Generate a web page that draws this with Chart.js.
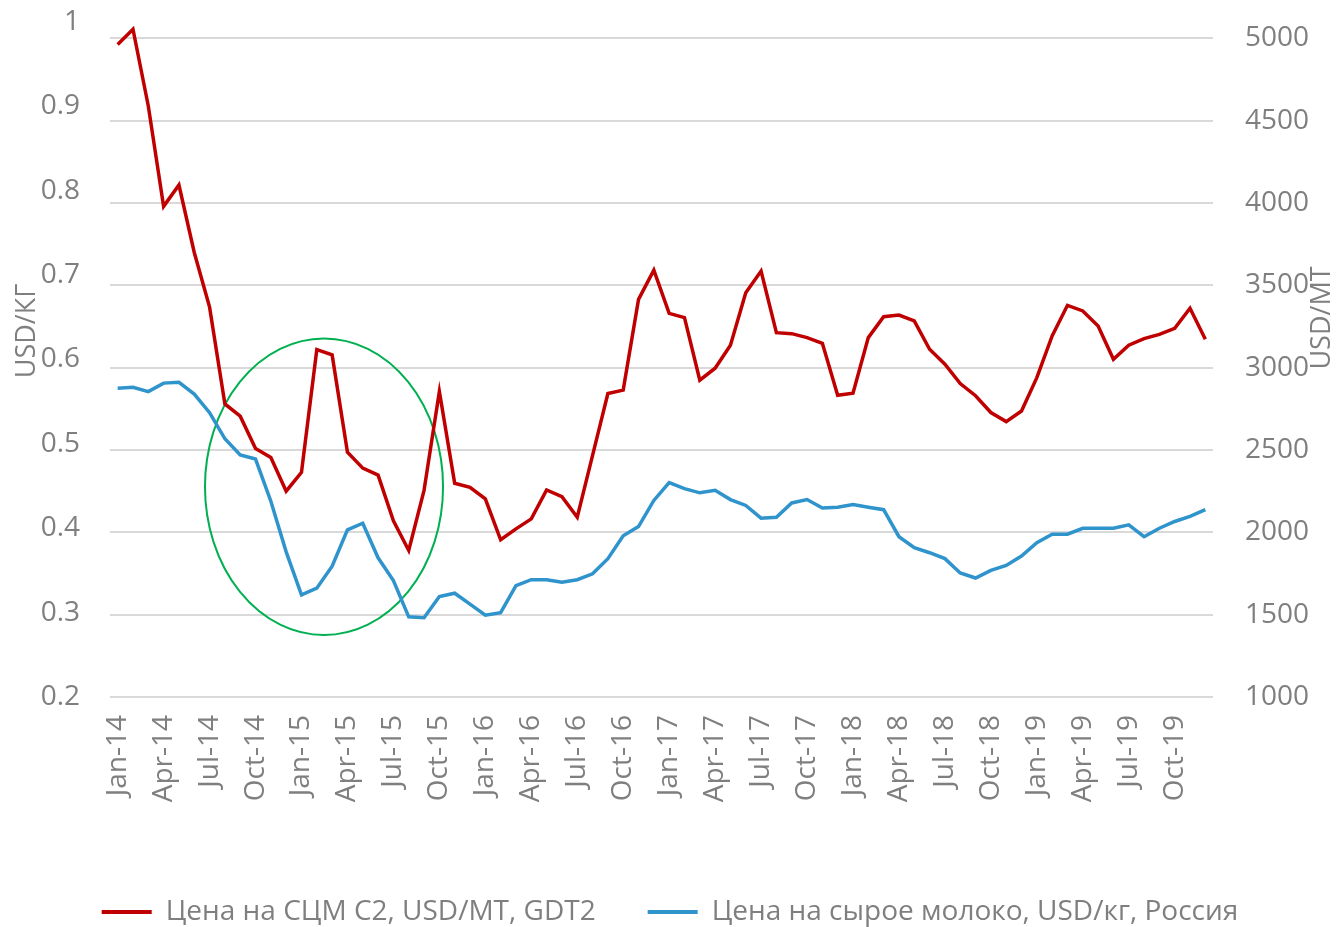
<!DOCTYPE html>
<html>
<head>
<meta charset="utf-8">
<script src="https://cdn.jsdelivr.net/npm/chart.js@4.4.1/dist/chart.umd.min.js"></script>
<style>
html,body{margin:0;padding:0;background:#ffffff;}
canvas{display:block;}
</style>
</head>
<body>
<canvas id="chart" width="1340" height="927"></canvas>
<script>
// ---------- data ----------
const categories = [
  'Jan-14','Feb-14','Mar-14','Apr-14','May-14','Jun-14','Jul-14','Aug-14','Sep-14','Oct-14','Nov-14','Dec-14',
  'Jan-15','Feb-15','Mar-15','Apr-15','May-15','Jun-15','Jul-15','Aug-15','Sep-15','Oct-15','Nov-15','Dec-15',
  'Jan-16','Feb-16','Mar-16','Apr-16','May-16','Jun-16','Jul-16','Aug-16','Sep-16','Oct-16','Nov-16','Dec-16',
  'Jan-17','Feb-17','Mar-17','Apr-17','May-17','Jun-17','Jul-17','Aug-17','Sep-17','Oct-17','Nov-17','Dec-17',
  'Jan-18','Feb-18','Mar-18','Apr-18','May-18','Jun-18','Jul-18','Aug-18','Sep-18','Oct-18','Nov-18','Dec-18',
  'Jan-19','Feb-19','Mar-19','Apr-19','May-19','Jun-19','Jul-19','Aug-19','Sep-19','Oct-19','Nov-19','Dec-19'
];

// SMP price, USD/MT (right axis)
const smpPrice = [
  4963, 5056, 4590, 3980, 4110, 3700, 3368, 2780, 2706, 2510, 2455, 2250,
  2365, 3110, 3078, 2487, 2390, 2348, 2070, 1890, 2255, 2856, 2298, 2274,
  2203, 1955, 2021, 2082, 2258, 2217, 2092, 2468, 2843, 2864, 3415, 3593,
  3330, 3304, 2924, 2997, 3137, 3456, 3587, 3213, 3207, 3183, 3148, 2833,
  2845, 3183, 3310, 3320, 3284, 3112, 3021, 2904, 2830, 2728, 2673, 2737,
  2940, 3193, 3379, 3345, 3254, 3051, 3137, 3177, 3203, 3239, 3361, 3173
];

// Raw milk price in Russia, USD/kg (left axis)
const rawMilkPrice = [
  0.566, 0.567, 0.562, 0.572, 0.573, 0.559, 0.537, 0.506, 0.487, 0.482, 0.432, 0.372,
  0.321, 0.329, 0.355, 0.398, 0.406, 0.365, 0.338, 0.295, 0.294, 0.319, 0.323, 0.310,
  0.297, 0.300, 0.332, 0.339, 0.339, 0.336, 0.339, 0.346, 0.364, 0.391, 0.402, 0.433,
  0.454, 0.447, 0.442, 0.445, 0.434, 0.427, 0.412, 0.413, 0.430, 0.434, 0.424, 0.425,
  0.428, 0.425, 0.422, 0.390, 0.377, 0.371, 0.364, 0.347, 0.341, 0.350, 0.356, 0.367,
  0.383, 0.393, 0.393, 0.400, 0.400, 0.400, 0.404, 0.390, 0.400, 0.408, 0.414, 0.422
];

const seriesNames = ['Цена на СЦМ С2, USD/MT, GDT2', 'Цена на сырое молоко, USD/кг, Россия'];
const leftTickValues = [0.2, 0.3, 0.4, 0.5, 0.6, 0.7, 0.8, 0.9, 1];
const rightTickValues = [1000, 1500, 2000, 2500, 3000, 3500, 4000, 4500, 5000];
const leftAxisTitle = 'USD/КГ';
const rightAxisTitle = 'USD/MT';

// highlighted period (ellipse), in data units: category index range and USD/MT range
const highlight = { fromIndex: 5.7, toIndex: 21.24, low: 1376, high: 3178 };

// ---------- styles ----------
const FONT = '"Open Sans", "Noto Sans", sans-serif';
const TEXT = '#7f7f7f';
const RED = '#c00000';
const BLUE = '#2f93cc';
const GREEN = '#00b050';
const GRID = '#d9d9d9';

const ellipsePlugin = {
  id: 'highlightEllipse',
  beforeDatasetsDraw(chart) {
    const x = chart.scales.x, y = chart.scales.yR, ctx = chart.ctx;
    const x1 = x.getPixelForValue(highlight.fromIndex), x2 = x.getPixelForValue(highlight.toIndex);
    const y1 = y.getPixelForValue(highlight.high), y2 = y.getPixelForValue(highlight.low);
    ctx.save();
    ctx.beginPath();
    ctx.ellipse((x1 + x2) / 2, (y1 + y2) / 2, Math.abs(x2 - x1) / 2, Math.abs(y2 - y1) / 2, 0, 0, Math.PI * 2);
    ctx.strokeStyle = GREEN;
    ctx.lineWidth = 2;
    ctx.stroke();
    ctx.restore();
  }
};

const axisTitlePlugin = {
  id: 'axisTitles',
  afterDraw(chart) {
    const ctx = chart.ctx;
    const yl = chart.scales.yL, yr = chart.scales.yR;
    ctx.save();
    ctx.fillStyle = TEXT;
    ctx.font = '27px ' + FONT;
    ctx.textAlign = 'center';
    ctx.textBaseline = 'middle';
    ctx.save();
    ctx.translate(yl.left + 27, 331);
    ctx.rotate(-Math.PI / 2);
    ctx.fillText(leftAxisTitle, 0, 0);
    ctx.restore();
    ctx.save();
    ctx.translate(yr.right - 18, 318);
    ctx.rotate(-Math.PI / 2);
    ctx.fillText(rightAxisTitle, 0, 0);
    ctx.restore();
    ctx.restore();
  }
};

new Chart(document.getElementById('chart'), {
  type: 'line',
  data: {
    labels: categories,
    datasets: [
      {
        label: seriesNames[0],
        data: smpPrice,
        yAxisID: 'yR',
        borderColor: RED,
        backgroundColor: RED,
        borderWidth: 3.5,
        pointRadius: 0,
        tension: 0,
        fill: false
      },
      {
        label: seriesNames[1],
        data: rawMilkPrice,
        yAxisID: 'yL',
        borderColor: BLUE,
        backgroundColor: BLUE,
        borderWidth: 3.5,
        pointRadius: 0,
        tension: 0,
        fill: false
      }
    ]
  },
  options: {
    responsive: false,
    animation: false,
    events: [],
    layout: { padding: { top: 22, left: 0, right: 0, bottom: -9 } },
    plugins: {
      tooltip: { enabled: false },
      legend: {
        position: 'bottom',
        labels: {
          color: TEXT,
          font: { size: 28, family: FONT },
          boxWidth: 50,
          boxHeight: 4,
          padding: 52,
          generateLabels(chart) {
            return Chart.defaults.plugins.legend.labels.generateLabels(chart)
              .map(l => Object.assign({}, l, { lineWidth: 0, fillStyle: l.strokeStyle }));
          }
        }
      }
    },
    scales: {
      x: {
        type: 'category',
        offset: true,
        grid: { display: false, drawTicks: false },
        border: { display: false },
        ticks: {
          autoSkip: false,
          maxRotation: 90,
          minRotation: 90,
          padding: 18,
          color: TEXT,
          font: { size: 28, family: FONT },
          callback(value, index) { return index % 3 === 0 ? categories[index] : ''; }
        },
        afterFit(scale) { scale.height = 149; }
      },
      yL: {
        type: 'linear',
        position: 'left',
        min: 0.2,
        max: 1,
        grid: { display: false, drawTicks: true, tickLength: 27 },
        border: { display: false },
        afterBuildTicks(scale) { scale.ticks = leftTickValues.map(v => ({ value: v })); },
        ticks: {
          padding: 3,
          color: TEXT,
          font: { size: 28, family: FONT },
          callback(v) { return String(Number(v.toFixed(1))); }
        },
        afterFit(scale) { scale.width = 110; }
      },
      yR: {
        type: 'linear',
        position: 'right',
        min: 1000,
        max: 5100,
        grid: { display: true, color: GRID, lineWidth: 2, drawTicks: true, tickLength: 29, tickColor: 'rgba(0,0,0,0)' },
        border: { display: false },
        afterBuildTicks(scale) { scale.ticks = rightTickValues.map(v => ({ value: v })); },
        ticks: {
          padding: 3,
          color: TEXT,
          font: { size: 28, family: FONT },
          callback(v) { return String(v); }
        },
        afterFit(scale) { scale.width = 127; }
      }
    }
  },
  plugins: [ellipsePlugin, axisTitlePlugin]
});
</script>
</body>
</html>
